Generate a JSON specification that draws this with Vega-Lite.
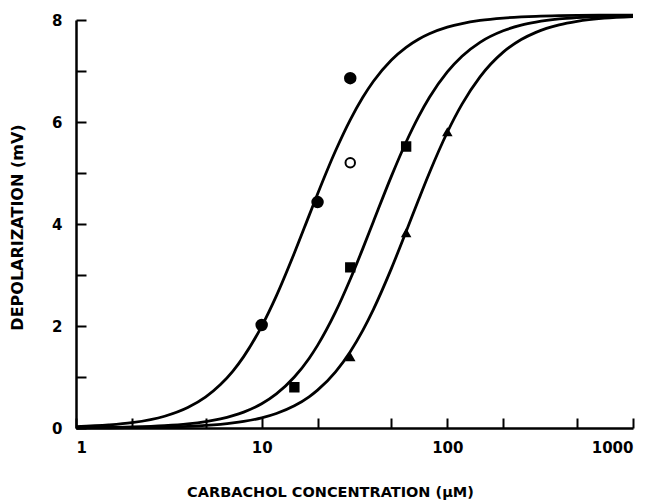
{
  "$schema": "https://vega.github.io/schema/vega-lite/v6.json",
  "width": 557,
  "height": 408,
  "autosize": "none",
  "padding": {"left": 76, "top": 20, "right": 26, "bottom": 74},
  "background": "white",
  "config": {"view": {"stroke": null}, "font": "DejaVu Sans"},
  "datasets": {
    "curves": [
      {"curve": "A", "conc": 1, "depol": 0.026}, {"curve": "A", "conc": 1.5, "depol": 0.059}, {"curve": "A", "conc": 2, "depol": 0.104}, {"curve": "A", "conc": 3, "depol": 0.231}, {"curve": "A", "conc": 4, "depol": 0.402}, {"curve": "A", "conc": 5, "depol": 0.611}, {"curve": "A", "conc": 6, "depol": 0.852}, {"curve": "A", "conc": 7, "depol": 1.117}, {"curve": "A", "conc": 8, "depol": 1.4}, {"curve": "A", "conc": 10, "depol": 1.994}, {"curve": "A", "conc": 12, "depol": 2.591}, {"curve": "A", "conc": 15, "depol": 3.431}, {"curve": "A", "conc": 18, "depol": 4.164}, {"curve": "A", "conc": 20, "depol": 4.588}, {"curve": "A", "conc": 25, "depol": 5.436}, {"curve": "A", "conc": 30, "depol": 6.043}, {"curve": "A", "conc": 35, "depol": 6.48}, {"curve": "A", "conc": 40, "depol": 6.799}, {"curve": "A", "conc": 50, "depol": 7.216}, {"curve": "A", "conc": 60, "depol": 7.465}, {"curve": "A", "conc": 70, "depol": 7.624}, {"curve": "A", "conc": 80, "depol": 7.73}, {"curve": "A", "conc": 100, "depol": 7.859}, {"curve": "A", "conc": 120, "depol": 7.931}, {"curve": "A", "conc": 150, "depol": 7.991}, {"curve": "A", "conc": 200, "depol": 8.038}, {"curve": "A", "conc": 250, "depol": 8.06}, {"curve": "A", "conc": 300, "depol": 8.073}, {"curve": "A", "conc": 400, "depol": 8.085}, {"curve": "A", "conc": 500, "depol": 8.09}, {"curve": "A", "conc": 700, "depol": 8.095}, {"curve": "A", "conc": 1000, "depol": 8.097},
      {"curve": "B", "conc": 1, "depol": 0.005}, {"curve": "B", "conc": 1.5, "depol": 0.011}, {"curve": "B", "conc": 2, "depol": 0.02}, {"curve": "B", "conc": 3, "depol": 0.045}, {"curve": "B", "conc": 4, "depol": 0.08}, {"curve": "B", "conc": 5, "depol": 0.125}, {"curve": "B", "conc": 6, "depol": 0.178}, {"curve": "B", "conc": 7, "depol": 0.241}, {"curve": "B", "conc": 8, "depol": 0.312}, {"curve": "B", "conc": 10, "depol": 0.476}, {"curve": "B", "conc": 12, "depol": 0.669}, {"curve": "B", "conc": 15, "depol": 0.999}, {"curve": "B", "conc": 18, "depol": 1.364}, {"curve": "B", "conc": 20, "depol": 1.62}, {"curve": "B", "conc": 25, "depol": 2.275}, {"curve": "B", "conc": 30, "depol": 2.916}, {"curve": "B", "conc": 35, "depol": 3.512}, {"curve": "B", "conc": 40, "depol": 4.05}, {"curve": "B", "conc": 50, "depol": 4.939}, {"curve": "B", "conc": 60, "depol": 5.608}, {"curve": "B", "conc": 70, "depol": 6.106}, {"curve": "B", "conc": 80, "depol": 6.48}, {"curve": "B", "conc": 100, "depol": 6.983}, {"curve": "B", "conc": 120, "depol": 7.29}, {"curve": "B", "conc": 150, "depol": 7.562}, {"curve": "B", "conc": 200, "depol": 7.788}, {"curve": "B", "conc": 250, "depol": 7.898}, {"curve": "B", "conc": 300, "depol": 7.958}, {"curve": "B", "conc": 400, "depol": 8.02}, {"curve": "B", "conc": 500, "depol": 8.048}, {"curve": "B", "conc": 700, "depol": 8.074}, {"curve": "B", "conc": 1000, "depol": 8.087},
      {"curve": "C", "conc": 1, "depol": 0.002}, {"curve": "C", "conc": 1.5, "depol": 0.005}, {"curve": "C", "conc": 2, "depol": 0.008}, {"curve": "C", "conc": 3, "depol": 0.018}, {"curve": "C", "conc": 4, "depol": 0.033}, {"curve": "C", "conc": 5, "depol": 0.051}, {"curve": "C", "conc": 6, "depol": 0.073}, {"curve": "C", "conc": 7, "depol": 0.099}, {"curve": "C", "conc": 8, "depol": 0.129}, {"curve": "C", "conc": 10, "depol": 0.199}, {"curve": "C", "conc": 12, "depol": 0.284}, {"curve": "C", "conc": 15, "depol": 0.435}, {"curve": "C", "conc": 18, "depol": 0.611}, {"curve": "C", "conc": 20, "depol": 0.742}, {"curve": "C", "conc": 25, "depol": 1.102}, {"curve": "C", "conc": 30, "depol": 1.497}, {"curve": "C", "conc": 35, "depol": 1.91}, {"curve": "C", "conc": 40, "depol": 2.327}, {"curve": "C", "conc": 50, "depol": 3.13}, {"curve": "C", "conc": 60, "depol": 3.853}, {"curve": "C", "conc": 70, "depol": 4.475}, {"curve": "C", "conc": 80, "depol": 5.0}, {"curve": "C", "conc": 100, "depol": 5.799}, {"curve": "C", "conc": 120, "depol": 6.35}, {"curve": "C", "conc": 150, "depol": 6.885}, {"curve": "C", "conc": 200, "depol": 7.369}, {"curve": "C", "conc": 250, "depol": 7.617}, {"curve": "C", "conc": 300, "depol": 7.758}, {"curve": "C", "conc": 400, "depol": 7.904}, {"curve": "C", "conc": 500, "depol": 7.973}, {"curve": "C", "conc": 700, "depol": 8.035}, {"curve": "C", "conc": 1000, "depol": 8.068}
    ],
    "points": [
      {"series": "filled circle", "conc": 10, "depol": 2.02},
      {"series": "filled circle", "conc": 20, "depol": 4.43},
      {"series": "filled circle", "conc": 30, "depol": 6.86},
      {"series": "open circle", "conc": 30, "depol": 5.2},
      {"series": "square", "conc": 15, "depol": 0.8},
      {"series": "square", "conc": 30, "depol": 3.15},
      {"series": "square", "conc": 60, "depol": 5.52},
      {"series": "triangle", "conc": 30, "depol": 1.39},
      {"series": "triangle", "conc": 60, "depol": 3.82},
      {"series": "triangle", "conc": 100, "depol": 5.8}
    ]
  },
  "encoding": {
    "x": {
      "field": "conc", "type": "quantitative",
      "scale": {"type": "log", "domain": [1, 1000]},
      "axis": {
        "values": [1, 2, 5, 10, 20, 50, 100, 200, 500, 1000],
        "format": "d",
        "labelExpr": "(datum.value == 1 || datum.value == 10 || datum.value == 100 || datum.value == 1000) ? datum.label : ''",
        "grid": false,
        "domainColor": "black", "domainWidth": 2.5,
        "tickColor": "black", "tickWidth": 2, "tickSize": -10,
        "labelPadding": 22, "labelFontSize": 15, "labelFontWeight": "bold", "labelColor": "black",
        "labelFont": "DejaVu Sans",
        "title": "CARBACHOL CONCENTRATION (μM)",
        "titleFontSize": 14.5, "titleFontWeight": "bold", "titleColor": "black",
        "titleX": 254, "titleY": 64, "titleAlign": "center", "titleBaseline": "middle"
      }
    },
    "y": {
      "field": "depol", "type": "quantitative",
      "scale": {"domain": [0, 8], "nice": false, "zero": true},
      "axis": {
        "values": [0, 1, 2, 3, 4, 5, 6, 7, 8],
        "labelExpr": "datum.value % 2 == 0 ? datum.label : ''",
        "grid": false,
        "domainColor": "black", "domainWidth": 2.5,
        "tickColor": "black", "tickWidth": 2, "tickSize": -10,
        "labelPadding": 24, "labelFontSize": 15, "labelFontWeight": "bold", "labelColor": "black",
        "title": "DEPOLARIZATION  (mV)",
        "titleFontSize": 16, "titleFontWeight": "bold", "titleColor": "black",
        "titleX": -59, "titleY": 207, "titleAlign": "center", "titleBaseline": "middle", "titleAngle": -90
      }
    }
  },
  "layer": [
    {
      "data": {"name": "curves"},
      "mark": {"type": "line", "color": "black", "strokeWidth": 2.8, "interpolate": "monotone"},
      "encoding": {"detail": {"field": "curve"}}
    },
    {
      "data": {"name": "points"},
      "mark": {"type": "point", "stroke": "black", "strokeWidth": 2, "opacity": 1},
      "encoding": {
        "shape": {"field": "series", "type": "nominal", "legend": null,
          "scale": {"domain": ["filled circle", "open circle", "square", "triangle"], "range": ["circle", "circle", "square", "triangle-up"]}},
        "fill": {"field": "series", "type": "nominal", "legend": null,
          "scale": {"domain": ["filled circle", "open circle", "square", "triangle"], "range": ["black", "white", "black", "black"]}},
        "size": {"field": "series", "type": "nominal", "legend": null,
          "scale": {"domain": ["filled circle", "open circle", "square", "triangle"], "range": [110, 50, 115, 115]}}
      }
    }
  ]
}
